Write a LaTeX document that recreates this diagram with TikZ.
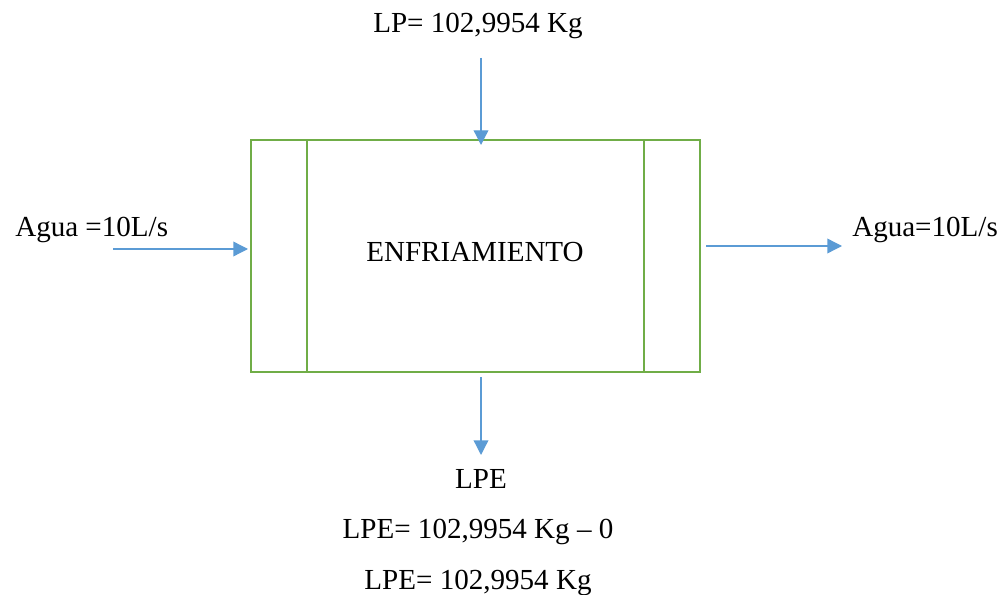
\documentclass[tikz,border=0pt]{standalone}
\usepackage{fontspec}
\setmainfont{Liberation Serif}
\usetikzlibrary{arrows.meta}
\definecolor{verde}{RGB}{112,173,71}
\definecolor{azul}{RGB}{91,155,213}
\begin{document}
\begin{tikzpicture}[x=0.75pt,y=-0.75pt,
  flecha/.style={azul,line width=1pt,-{Triangle[length=11pt,width=11pt]}},
  texto/.style={inner sep=0pt,anchor=base,font=\fontsize{21.8}{26}\selectfont}]
  \useasboundingbox (0,0) rectangle (1003,595);
  \node[draw=verde,line width=1.8pt,minimum width=336.75pt,minimum height=174pt,inner sep=0pt] (box) at (475.5,256) {};
  \draw[verde,line width=1.8pt] (307,140) -- (307,372);
  \draw[verde,line width=1.8pt] (644,140) -- (644,372);
  \node[texto] (enf) at (475,262) {ENFRIAMIENTO};
  \node[texto] (lp) at (478,33) {LP= 102,9954 Kg};
  \node[texto,anchor=base west] (aguain) at (15,237) {Agua =10L/s};
  \node[texto,anchor=base west] (aguaout) at (852,237) {Agua=10L/s};
  \node[texto] (lpe) at (481,488) {LPE};
  \node[texto] (lpe1) at (478,538) {LPE= 102,9954 Kg -- 0};
  \node[texto] (lpe2) at (478,589) {LPE= 102,9954 Kg};
  % flechas
  \coordinate (a1) at (481,58);  \coordinate (a2) at (481,145);
  \coordinate (b1) at (113,249); \coordinate (b2) at (248,249);
  \coordinate (c1) at (706,246); \coordinate (c2) at (842,246);
  \coordinate (d1) at (481,377); \coordinate (d2) at (481,455);
  \draw[flecha] (a1) -- (a2);
  \draw[flecha] (b1) -- (b2);
  \draw[flecha] (c1) -- (c2);
  \draw[flecha] (d1) -- (d2);
\end{tikzpicture}
\end{document}
